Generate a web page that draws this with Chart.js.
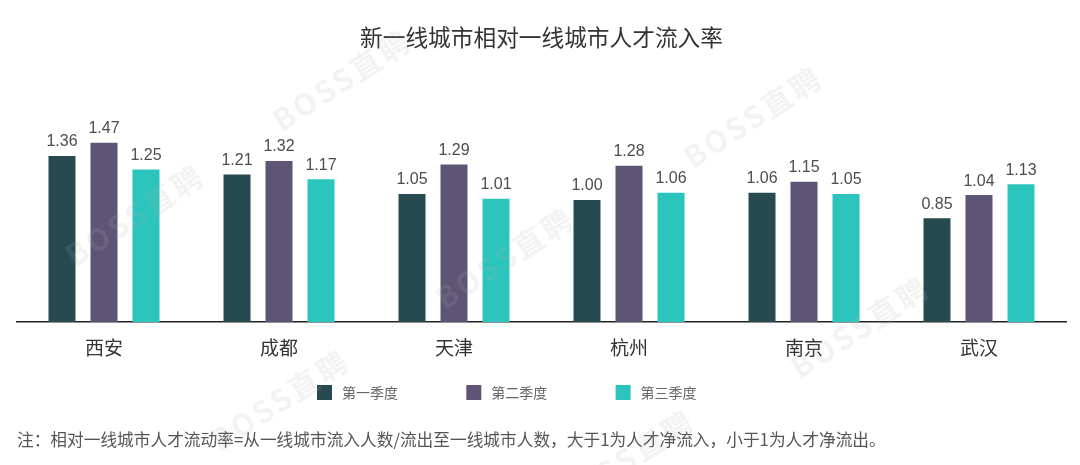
<!DOCTYPE html>
<html>
<head>
<meta charset="utf-8">
<script src="https://cdn.jsdelivr.net/npm/chart.js@4/dist/chart.umd.min.js"></script>
<style>
html,body{margin:0;padding:0;background:#fff;}
#wrap{position:relative;width:1080px;height:465px;}
canvas{display:block;}
</style>
</head>
<body>
<div id="wrap"><canvas id="c" width="1080" height="465"></canvas></div>
<script>
const title = '新一线城市相对一线城市人才流入率';
const footnote = '注：相对一线城市人才流动率=从一线城市流入人数/流出至一线城市人数，大于1为人才净流入，小于1为人才净流出。';
const watermarkText = 'BOSS直聘';
const categories = ['西安', '成都', '天津', '杭州', '南京', '武汉'];
const seriesNames = ['第一季度', '第二季度', '第三季度'];
const q1 = [1.36, 1.21, 1.05, 1.00, 1.06, 0.85];
const q2 = [1.47, 1.32, 1.29, 1.28, 1.15, 1.04];
const q3 = [1.25, 1.17, 1.01, 1.06, 1.05, 1.13];
const colors = ['#264a50', '#5e5475', '#2cc5bd'];

const CJK = '"Noto Sans CJK SC", "Noto Sans", sans-serif';
const NUM = '"Liberation Sans", Arial, sans-serif';

const extras = {
  id: 'extras',
  afterDatasetsDraw(chart) {
    const ctx = chart.ctx;
    ctx.save();
    // value labels
    ctx.font = '16px ' + NUM;
    ctx.fillStyle = '#4d4d4d';
    ctx.textAlign = 'center';
    ctx.textBaseline = 'bottom';
    chart.data.datasets.forEach((ds, i) => {
      const meta = chart.getDatasetMeta(i);
      meta.data.forEach((el, j) => {
        ctx.fillText(ds.data[j].toFixed(2), el.x, el.y - 6);
      });
    });
    // title
    ctx.font = '22.7px ' + CJK;
    ctx.fillStyle = '#333';
    ctx.textBaseline = 'middle';
    ctx.fillText(title, 541.5, 37);
    // legend
    ctx.font = '14px ' + CJK;
    ctx.textAlign = 'left';
    chart.data.datasets.forEach((ds, i) => {
      const x = 317 + i * 149.3;
      ctx.fillStyle = ds.backgroundColor;
      ctx.fillRect(x, 385, 15, 15);
      ctx.fillStyle = '#666';
      ctx.fillText(ds.label, x + 25, 393);
    });
    // footnote
    ctx.font = '16.7px ' + CJK;
    ctx.fillStyle = '#555';
    ctx.fillText(footnote, 17, 440);
    ctx.restore();
  },
  afterDraw(chart) {
    const ctx = chart.ctx;
    ctx.save();
    ctx.font = 'bold 30px ' + CJK;
    try { ctx.letterSpacing = '3px'; } catch (e) {}
    ctx.fillStyle = 'rgba(175,175,175,0.15)';
    ctx.textAlign = 'center';
    ctx.textBaseline = 'middle';
    [[342, 80], [753, 117], [135, 215], [505, 258], [860, 327], [280, 400], [625, 460]].forEach(p => {
      ctx.save();
      ctx.translate(p[0], p[1]);
      ctx.rotate(-33 * Math.PI / 180);
      ctx.fillText(watermarkText, 0, 0);
      ctx.restore();
    });
    ctx.restore();
  }
};

new Chart(document.getElementById('c'), {
  type: 'bar',
  data: {
    labels: categories,
    datasets: [
      { label: seriesNames[0], data: q1, backgroundColor: colors[0] },
      { label: seriesNames[1], data: q2, backgroundColor: colors[1] },
      { label: seriesNames[2], data: q3, backgroundColor: colors[2] }
    ]
  },
  options: {
    responsive: false,
    animation: false,
    devicePixelRatio: 1,
    layout: { padding: { left: 16.5, right: 13.5, top: 102.4, bottom: 92.2 } },
    datasets: { bar: { categoryPercentage: 0.72, barPercentage: 0.643 } },
    plugins: { legend: { display: false }, tooltip: { enabled: false }, title: { display: false } },
    scales: {
      x: {
        grid: { display: false, drawTicks: false },
        border: { display: true, color: '#222', width: 1.5 },
        ticks: { font: { size: 19, family: CJK }, color: '#333', padding: 14 }
      },
      y: { display: false, min: 0, max: 1.8 }
    }
  },
  plugins: [extras]
});
</script>
</body>
</html>
